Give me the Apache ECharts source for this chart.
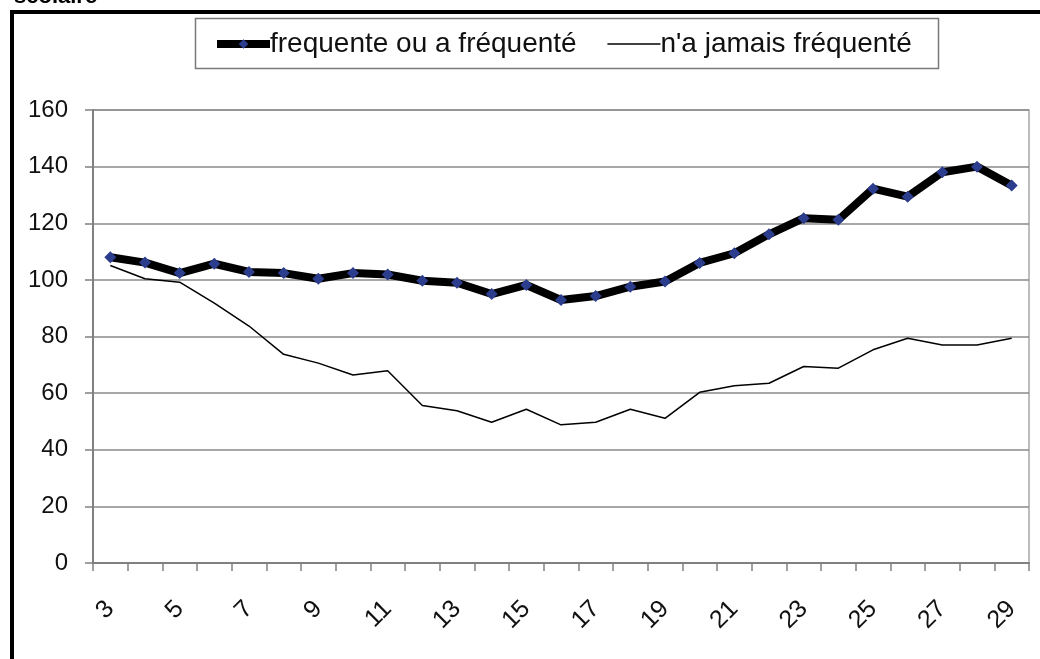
<!DOCTYPE html>
<html>
<head>
<meta charset="utf-8">
<script src="https://cdn.jsdelivr.net/npm/echarts@6/dist/echarts.min.js"></script>
<style>
html,body{margin:0;padding:0;background:#fff;}
#chart{width:1040px;height:659px;}
</style>
</head>
<body>
<div id="chart"></div>
<script>
var categories = ['3','4','5','6','7','8','9','10','11','12','13','14','15','16','17','18','19','20','21','22','23','24','25','26','27','28','29'];
var frequente = [108.0,106.1,102.4,105.7,102.8,102.4,100.4,102.4,101.9,99.7,99.0,95.0,98.2,92.9,94.3,97.6,99.4,106.0,109.4,116.1,121.8,121.2,132.2,129.4,138.0,140.0,133.3];
var jamais = [105.1,100.4,99.2,91.8,83.7,73.7,70.6,66.4,67.9,55.6,53.8,49.7,54.3,48.8,49.7,54.3,51.1,60.3,62.6,63.5,69.4,68.8,75.3,79.4,77.0,77.0,79.4];
var seriesNames = ['frequente ou a fréquenté', "n'a jamais fréquenté"];
var yTicks = {min:0, max:160, interval:20};

var chart = echarts.init(document.getElementById('chart'), null, {renderer:'canvas'});
var font = '"Liberation Sans", Arial, sans-serif';
chart.setOption({
  animation:false,
  backgroundColor:'#fff',
  textStyle:{fontFamily:font},
  graphic:[
    {type:'rect', shape:{x:12,y:12,width:1060,height:700}, style:{fill:null, stroke:'#000', lineWidth:4}, z:100},
    {type:'text', x:14, y:-14, style:{text:'scolaire', font:'bold 22px '+font, fill:'#000'}, z:100},
    {type:'rect', shape:{x:195.5,y:18.5,width:743,height:50}, style:{fill:'#fff', stroke:'#7a7a7a', lineWidth:1.5}, z:-1}
  ],
  legend:{
    left:213, top:30, padding:0,
    itemWidth:53, itemHeight:12, itemGap:30,
    textStyle:{fontSize:28, color:'#111', fontFamily:font, padding:[0,0,0,-5]},
    data:[
      {name:seriesNames[0], lineStyle:{width:8, color:'#000'}, itemStyle:{color:'#2b3d8c'}},
      {name:seriesNames[1], lineStyle:{width:1.5, color:'#000'}, itemStyle:{opacity:0}}
    ]
  },
  grid:{left:93, right:11, top:110, bottom:96, show:true, borderColor:'#a8a8a8', borderWidth:1.5, backgroundColor:'transparent'},
  xAxis:{
    type:'category', data:categories, boundaryGap:true,
    axisLine:{lineStyle:{color:'#808080', width:2}},
    axisTick:{show:true, interval:0, length:8, lineStyle:{color:'#808080', width:1.5}},
    axisLabel:{interval:1, rotate:45, margin:42, fontSize:25, color:'#111', fontFamily:font},
    splitLine:{show:false}
  },
  yAxis:{
    type:'value', min:yTicks.min, max:yTicks.max, interval:yTicks.interval,
    axisLine:{show:true, lineStyle:{color:'#808080', width:2}},
    axisTick:{show:true, length:8, lineStyle:{color:'#808080', width:1.5}},
    axisLabel:{fontSize:24, color:'#111', margin:25, fontFamily:font},
    splitLine:{show:true, lineStyle:{color:'#8a8a8a', width:1.5}}
  },
  series:[
    {name:seriesNames[0], type:'line', data:frequente, symbol:'diamond', symbolSize:12,
     lineStyle:{color:'#000', width:8}, itemStyle:{color:'#2b3d8c', borderWidth:0}, z:3},
    {name:seriesNames[1], type:'line', data:jamais, symbol:'none', showSymbol:false,
     lineStyle:{color:'#000', width:1.5}, itemStyle:{color:'#000'}, z:2}
  ]
});
</script>
</body>
</html>
